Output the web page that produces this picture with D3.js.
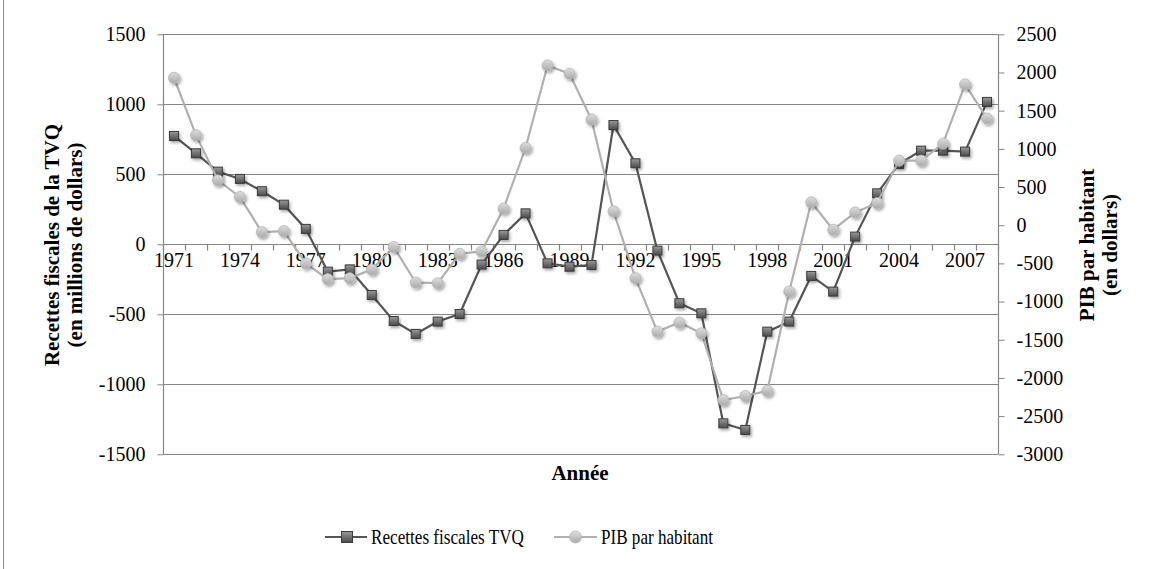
<!DOCTYPE html>
<html>
<head>
<meta charset="utf-8">
<script src="https://cdn.jsdelivr.net/npm/d3@7"></script>
<style>
  body { margin: 0; background: #fff; }
  text { font-family: "Liberation Serif", "Times New Roman", serif; fill: #000; }
  .axis path { display: none; }
  .axis line { stroke: #868686; }
  .title { font-weight: bold; font-size: 21px; }
</style>
</head>
<body>
<svg id="svgChart" width="1151" height="569"></svg>
<script>
// data
var years = d3.range(1971, 2009);
var tvq = [774, 650, 519, 467, 379, 283, 110, -195, -179, -362,
           -548, -640, -552, -498, -145, 67, 221, -136, -160, -148,
           852, 579, -45, -421, -493, -1279, -1326, -624, -552, -226,
           -338, 55, 364, 574, 669, 669, 662, 1017];
var pib = [1931, 1179, 588, 370, -90, -77, -500, -706, -693, -580,
           -286, -750, -759, -374, -343, 218, 1014, 2093, 1984, 1384,
           182, -693, -1393, -1275, -1415, -2290, -2237, -2168, -868, 300,
           -59, 168, 291, 846, 846, 1069, 1844, 1398];
var leftTicks = [-1500, -1000, -500, 0, 500, 1000, 1500];
var rightTicks = [-3000, -2500, -2000, -1500, -1000, -500, 0, 500, 1000, 1500, 2000, 2500];
var labelYears = years.filter(function(y) { return (y - 1971) % 3 == 0; });
var seriesNames = ["Recettes fiscales TVQ", "PIB par habitant"];

class Chart {
    constructor() {
        this.margin = {top: 34.3, left: 163, right: 998, bottom: 454.3};
        this.svg = d3.select("#svgChart");
        this.addDefs();
        this.createScales();
        this.addAxes();
        this.addLines();
        this.addLegend();
    }

    addDefs() {
        var defs = this.svg.append("defs");
        var f = defs.append("filter").attr("id", "shadow")
            .attr("x", "-50%").attr("y", "-50%").attr("width", "200%").attr("height", "200%");
        f.append("feDropShadow").attr("dx", 1.5).attr("dy", 2).attr("stdDeviation", 1.5)
            .attr("flood-color", "#000").attr("flood-opacity", 0.35);

        var g1 = defs.append("linearGradient").attr("id", "gSquare")
            .attr("x1", 0).attr("y1", 0).attr("x2", 0).attr("y2", 1);
        g1.append("stop").attr("offset", "0%").attr("stop-color", "#9a9a9a");
        g1.append("stop").attr("offset", "100%").attr("stop-color", "#4a4a4a");

        var g2 = defs.append("linearGradient").attr("id", "gCircle")
            .attr("x1", 0).attr("y1", 0).attr("x2", 0).attr("y2", 1);
        g2.append("stop").attr("offset", "0%").attr("stop-color", "#dedede");
        g2.append("stop").attr("offset", "100%").attr("stop-color", "#aaaaaa");
    }

    createScales() {
        var m = this.margin;
        this.x = d3.scaleBand().domain(years).range([m.left, m.right]).padding(0);
        this.y = d3.scaleLinear().domain([-1500, 1500]).range([m.bottom, m.top]);
        this.y2 = d3.scaleLinear().domain([-3000, 2500]).range([m.bottom, m.top]);
    }

    addAxes() {
        var m = this.margin, x = this.x, y = this.y;
        var fmt = function(d) { return String(d); }; // plain hyphen minus like the original

        // outer border on the left
        this.svg.append("line").attr("x1", 3.5).attr("x2", 3.5).attr("y1", 0).attr("y2", 569)
            .attr("stroke", "#8c8c8c");

        // gridlines
        this.svg.append("g").selectAll("line").data(leftTicks).enter().append("line")
            .attr("x1", m.left).attr("x2", m.right)
            .attr("y1", function(d) { return Math.round(y(d)) + 0.5; })
            .attr("y2", function(d) { return Math.round(y(d)) + 0.5; })
            .attr("stroke", "#868686").attr("stroke-width", 1.2);

        // left axis
        var gl = this.svg.append("g").attr("class", "axis")
            .attr("transform", "translate(" + (m.left + 0.5) + ",0)")
            .call(d3.axisLeft(y).tickValues(leftTicks).tickSize(6).tickPadding(12).tickFormat(fmt));
        gl.selectAll("text").style("font-size", "20px");
        this.svg.append("line").attr("x1", m.left + 0.5).attr("x2", m.left + 0.5)
            .attr("y1", m.top).attr("y2", m.bottom).attr("stroke", "#868686").attr("stroke-width", 1.2);

        // right axis
        var gr = this.svg.append("g").attr("class", "axis")
            .attr("transform", "translate(" + (m.right + 0.5) + ",0)")
            .call(d3.axisRight(this.y2).tickValues(rightTicks).tickSize(6).tickPadding(12).tickFormat(fmt));
        gr.selectAll("text").style("font-size", "20px");
        this.svg.append("line").attr("x1", m.right + 0.5).attr("x2", m.right + 0.5)
            .attr("y1", m.top).attr("y2", m.bottom).attr("stroke", "#868686").attr("stroke-width", 1.2);

        // x axis along zero: ticks between categories, labels every 3 years
        var y0 = Math.round(y(0)) + 0.5;
        var bounds = years.map(function(d) { return x(d); }).concat([m.right]);
        this.svg.append("g").selectAll("line").data(bounds).enter().append("line")
            .attr("x1", function(d) { return Math.round(d) + 0.5; })
            .attr("x2", function(d) { return Math.round(d) + 0.5; })
            .attr("y1", y0).attr("y2", y0 + 6)
            .attr("stroke", "#868686").attr("stroke-width", 1.2);
        this.svg.append("g").selectAll("text").data(labelYears).enter().append("text")
            .attr("x", function(d) { return x(d) + x.bandwidth() / 2; })
            .attr("y", y0 + 16).attr("dy", "0.32em")
            .attr("text-anchor", "middle").style("font-size", "20px")
            .text(function(d) { return d; });

        // axis titles
        var lt = this.svg.append("text").attr("class", "title")
            .attr("transform", "translate(52,245) rotate(-90)").attr("text-anchor", "middle");
        lt.append("tspan").attr("x", 0).attr("dy", "0.35em").text("Recettes fiscales de la TVQ");
        lt.append("tspan").attr("x", 0).attr("dy", "1.1em").text("(en millions de dollars)");

        var rt = this.svg.append("text").attr("class", "title")
            .attr("transform", "translate(1087,245) rotate(-90)").attr("text-anchor", "middle");
        rt.append("tspan").attr("x", 0).attr("dy", "0.35em").text("PIB par habitant");
        rt.append("tspan").attr("x", 0).attr("dy", "1.1em").text("(en dollars)");

        this.svg.append("text").attr("class", "title")
            .attr("x", 580).attr("y", 473).attr("dy", "0.35em").attr("text-anchor", "middle")
            .text("Année");
    }

    addLines() {
        var x = this.x, y = this.y, y2 = this.y2;
        var cx = function(d, i) { return x(years[i]) + x.bandwidth() / 2; };

        var lineL = d3.line().x(cx).y(function(d) { return y(d); });
        var lineR = d3.line().x(cx).y(function(d) { return y2(d); });

        this.svg.append("path").datum(tvq).attr("d", lineL)
            .attr("fill", "none").attr("stroke", "#555").attr("stroke-width", 2.2);
        this.svg.append("g").selectAll("rect").data(tvq).enter().append("rect")
            .attr("x", function(d, i) { return cx(d, i) - 4.5; })
            .attr("y", function(d) { return y(d) - 4.5; })
            .attr("width", 9).attr("height", 9)
            .attr("fill", "url(#gSquare)").attr("stroke", "#3c3c3c").attr("stroke-width", 1)
            .attr("filter", "url(#shadow)");

        this.svg.append("path").datum(pib).attr("d", lineR)
            .attr("fill", "none").attr("stroke", "#b0b0b0").attr("stroke-width", 2.2);
        this.svg.append("g").selectAll("circle").data(pib).enter().append("circle")
            .attr("cx", cx)
            .attr("cy", function(d) { return y2(d); })
            .attr("r", 5.5)
            .attr("fill", "url(#gCircle)").attr("stroke", "#b5b5b5").attr("stroke-width", 0.8)
            .attr("filter", "url(#shadow)");
    }

    addLegend() {
        var ly = 537;
        var g = this.svg.append("g");
        // first entry
        g.append("line").attr("x1", 325).attr("x2", 367).attr("y1", ly).attr("y2", ly)
            .attr("stroke", "#555").attr("stroke-width", 2.2);
        g.append("rect").attr("x", 341.5).attr("y", ly - 5.5).attr("width", 11).attr("height", 11)
            .attr("fill", "url(#gSquare)").attr("stroke", "#3c3c3c");
        g.append("text").attr("x", 371).attr("y", ly).attr("dy", "0.35em")
            .style("font-size", "21px").attr("textLength", 153).attr("lengthAdjust", "spacingAndGlyphs")
            .text(seriesNames[0]);
        // second entry
        g.append("line").attr("x1", 554).attr("x2", 597).attr("y1", ly).attr("y2", ly)
            .attr("stroke", "#b0b0b0").attr("stroke-width", 2.2);
        g.append("circle").attr("cx", 575.5).attr("cy", ly).attr("r", 6)
            .attr("fill", "url(#gCircle)").attr("stroke", "#b5b5b5").attr("stroke-width", 0.8);
        g.append("text").attr("x", 601).attr("y", ly).attr("dy", "0.35em")
            .style("font-size", "21px").attr("textLength", 112).attr("lengthAdjust", "spacingAndGlyphs")
            .text(seriesNames[1]);
    }
}

new Chart();
</script>
</body>
</html>
